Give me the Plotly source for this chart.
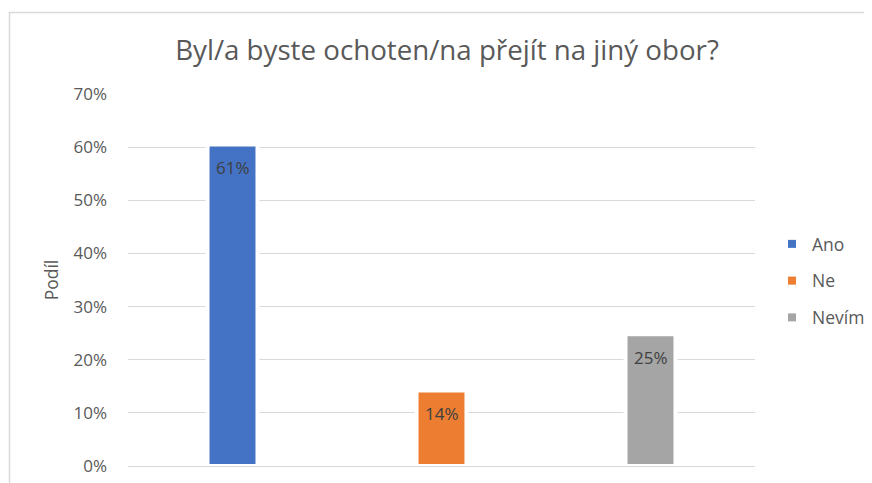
import plotly.graph_objects as go

categories = ["Ano", "Ne", "Nevím"]
values = [0.605, 0.142, 0.248]
labels = ["61%", "14%", "25%"]
colors = ["#4472C4", "#ED7D31", "#A5A5A5"]
yticks = [0, 0.1, 0.2, 0.3, 0.4, 0.5, 0.6, 0.7]
ytick_text = ["0%", "10%", "20%", "30%", "40%", "50%", "60%", "70%"]

FONT = "Open Sans"
TXT = "#595959"

# The page body has an 8px default margin; work in reference pixel coords.
OFF = 8
W, H = 872 - OFF, 483 - OFF
L, R, T, B = 128 - OFF, 872 - 755, 94 - OFF, 483 - 466
pw, ph = W - L - R, H - T - B
fx = lambda px: (px - OFF - L) / pw
fy = lambda py: (H - B - (py - OFF)) / ph

fig = go.Figure()
for cat, val, col in zip(categories, values, colors):
    fig.add_trace(go.Bar(
        x=[cat], y=[val], width=0.239, offsetgroup="a",
        marker=dict(color=col, line=dict(color="white", width=4)),
        showlegend=False, hoverinfo="skip",
    ))
for i, (cat, col) in enumerate(zip(categories, colors)):
    fig.add_trace(go.Scatter(
        x=[None], y=[None], mode="markers", name=cat,
        marker=dict(symbol="square", size=8, color=col),
        legendgroup=f"g{i}", showlegend=True,
    ))

annotations = []
for cat, val, lab in zip(categories, values, labels):
    annotations.append(dict(
        x=cat, y=val, text=lab, showarrow=False, yanchor="middle",
        yshift=-23, font=dict(family=FONT, size=17, color="#404040"),
    ))

fig.update_layout(
    width=W, height=H,
    margin=dict(l=L, r=R, t=T, b=B, autoexpand=False),
    paper_bgcolor="white", plot_bgcolor="white",
    barmode="overlay",
    font=dict(family=FONT, color=TXT),
    title=dict(text="Byl/a byste ochoten/na přejít na jiný obor?",
               x=fx(447), xref="paper", xanchor="center",
               y=1 - (50 - OFF) / H, yanchor="middle",
               font=dict(family=FONT, size=27.7, color=TXT)),
    xaxis=dict(showticklabels=False, showgrid=False, zeroline=False,
               showline=False, ticks="", range=[-0.5, 2.5]),
    yaxis=dict(range=[0, 0.7], tickvals=yticks, ticktext=ytick_text,
               showgrid=True, gridcolor="#D9D9D9", gridwidth=1,
               zeroline=True, zerolinecolor="#D9D9D9", zerolinewidth=1,
               showline=False, ticks="", ticklabelstandoff=20,
               tickfont=dict(family=FONT, size=17, color=TXT),
               title=dict(text="Podíl", standoff=10,
                          font=dict(family=FONT, size=17.5, color=TXT))),
    legend=dict(x=fx(772), xanchor="left", y=fy(226), yanchor="top",
                font=dict(family=FONT, size=17.5, color=TXT),
                tracegroupgap=11, bgcolor="rgba(0,0,0,0)"),
    annotations=annotations,
    shapes=[dict(type="rect", xref="paper", yref="paper",
                 x0=fx(9.5), x1=fx(900), y0=fy(520), y1=fy(12.5),
                 line=dict(color="#D9D9D9", width=1.5), layer="below")],
)

fig.write_html("out.html")
